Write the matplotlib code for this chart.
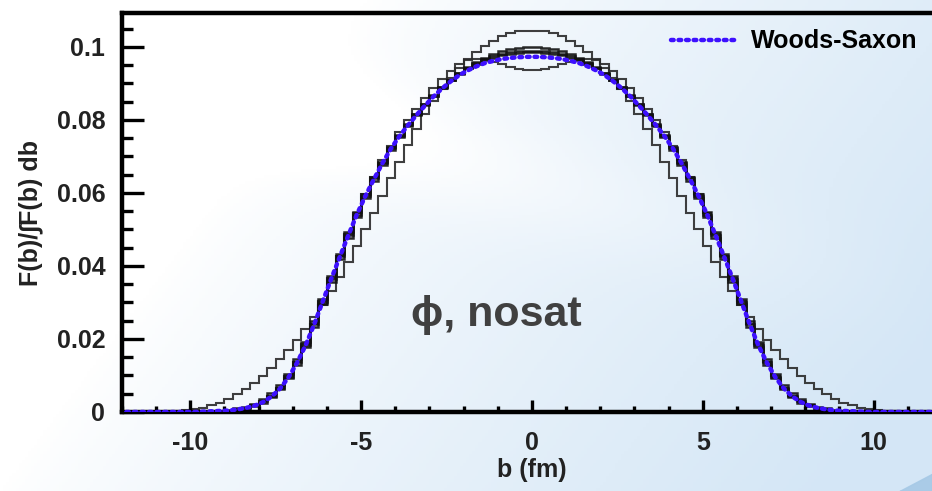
import numpy as np
import matplotlib
matplotlib.use("Agg")
import matplotlib.pyplot as plt
from matplotlib.ticker import MultipleLocator

plt.rcParams['font.family'] = ['Liberation Sans', 'DejaVu Sans']
plt.rcParams['font.weight'] = 'bold'

# half profiles (b >= 0), bin width 0.25 fm, centres 0.125 ... 11.875
bin_width = 0.25
b_max = 12.0

woods_saxon = [.0973, .0972, .0970, .0967, .0962, .0956, .0947, .0936, .0923, .0906,
               .0887, .0865, .0840, .0814, .0786, .0756, .0722, .0682, .0638, .0592,
               .0541, .0484, .0425, .0365, .0303, .0240, .0183, .0135, .0095, .0064,
               .0042, .0027, .0017, .0011, .0007, .0004, .0003, .0002, .0001]

hist_a = [.1045, .1043, .1037, .1029, .1017, .1003, .0986, .0966, .0943, .0916,
          .0886, .0852, .0815, .0775, .0732, .0686, .0640, .0593, .0546, .0500,
          .0455, .0412, .0370, .0331, .0294, .0260, .0228, .0198, .0170, .0144,
          .0120, .0098, .0079, .0062, .0048, .0036, .0026, .0018, .0012, .0008,
          .0005, .0003, .0002, .0001]

hist_b = [.1000, .0998, .0994, .0988, .0980, .0970, .0958, .0944, .0928, .0909,
          .0888, .0865, .0840, .0813, .0784, .0753, .0718, .0678, .0634, .0587,
          .0535, .0478, .0418, .0357, .0295, .0233, .0177, .0130, .0092, .0062,
          .0041, .0026, .0016, .0010, .0006, .0004, .0002, .0001]

hist_c = [.0990, .0989, .0986, .0981, .0975, .0967, .0956, .0943, .0928, .0910,
          .0890, .0868, .0843, .0816, .0787, .0757, .0722, .0683, .0640, .0593,
          .0541, .0485, .0426, .0365, .0302, .0240, .0183, .0136, .0097, .0066,
          .0044, .0029, .0018, .0011, .0007, .0004, .0002, .0001]

hist_d = [.0985, .0984, .0981, .0977, .0971, .0963, .0953, .0941, .0926, .0909,
          .0889, .0867, .0843, .0817, .0789, .0759, .0725, .0686, .0643, .0597,
          .0547, .0492, .0433, .0372, .0310, .0249, .0193, .0145, .0105, .0074,
          .0051, .0035, .0023, .0015, .0010, .0006, .0004, .0002, .0001]

hist_e = [.0937, .0940, .0946, .0953, .0960, .0966, .0968, .0964, .0952, .0935,
          .0912, .0887, .0860, .0831, .0800, .0767, .0730, .0689, .0644, .0596,
          .0544, .0487, .0427, .0366, .0303, .0241, .0185, .0137, .0098, .0067,
          .0045, .0029, .0018, .0011, .0007, .0004, .0002, .0001]

x_ticks = [-10, -5, 0, 5, 10]
y_ticks = [0, 0.02, 0.04, 0.06, 0.08, 0.1]

n_half = int(b_max / bin_width)
edges = np.arange(-b_max, b_max + bin_width / 2, bin_width)
centres = 0.5 * (edges[:-1] + edges[1:])


def full_profile(half):
    h = np.zeros(n_half)
    h[:len(half)] = half
    return np.concatenate([h[::-1], h])


fig = plt.figure(figsize=(9.32, 4.91), dpi=100)

# slide background gradient
bg = fig.add_axes([0, 0, 1, 1], zorder=0)
gx, gy = np.meshgrid(np.linspace(0, 1, 300), np.linspace(0, 1, 160))
t = np.clip(1.15 * gx + 0.45 * gy - 0.45, 0, 1) ** 0.8
band = np.exp(-((gy - 0.55 * gx - 0.05) / 0.12) ** 2) * 0.5
t = np.clip(t - band * (1 - gx), 0, 1)
white = np.array([1.0, 1.0, 1.0])
blue = np.array([0.835, 0.905, 0.965])
img = white[None, None, :] * (1 - t[..., None]) + blue[None, None, :] * t[..., None]
bg.imshow(img, extent=[0, 1, 0, 1], aspect='auto', origin='upper')
swoosh = np.linspace(0.965, 1.0, 30)
bg.fill_between(swoosh, 0, (swoosh - 0.965) * 1.0, color='#a6c9e6', alpha=0.9)
bg.set_xlim(0, 1)
bg.set_ylim(0, 1)
bg.axis('off')

ax = fig.add_axes([0.1309, 0.1609, 0.8798, 0.8126], zorder=1)
ax.patch.set_alpha(0)

for half, lw, col in [(hist_a, 1.5, '#2a2a2a'), (hist_e, 1.5, '#2a2a2a'),
                      (hist_d, 1.8, '#111111'), (hist_c, 1.8, '#111111'),
                      (hist_b, 1.8, '#111111')]:
    ax.stairs(full_profile(half), edges, color=col, lw=lw, alpha=0.9)

ws_full = full_profile(woods_saxon)
ax.plot(centres, ws_full, linestyle=(0, (0.6, 1.1)), color='#3d10ff', lw=3.2,
        dash_capstyle='round', label='Woods-Saxon', zorder=3)

ax.set_xlim(-12, 12)
ax.set_ylim(0, 0.1093)
ax.set_xticks(x_ticks)
ax.set_xticklabels([str(v) for v in x_ticks])
ax.set_yticks(y_ticks)
ax.set_yticklabels(['0', '0.02', '0.04', '0.06', '0.08', '0.1'])
ax.xaxis.set_minor_locator(MultipleLocator(1))
ax.yaxis.set_minor_locator(MultipleLocator(0.005))

ax.tick_params(axis='both', which='both', direction='in', colors='black',
               labelcolor='#222222', labelsize=18, width=2.4)
ax.tick_params(axis='y', which='major', length=16, pad=12)
ax.tick_params(axis='y', which='minor', length=8)
ax.tick_params(axis='x', which='major', length=9, pad=14)
ax.tick_params(axis='x', which='minor', length=4.5)
ax.tick_params(top=False, right=False, which='both')

for s in ['left', 'bottom', 'top']:
    ax.spines[s].set_linewidth(3.2)
ax.spines['right'].set_visible(False)

ax.set_xlabel('b (fm)', fontsize=18, fontweight='bold', color='#222222', labelpad=2)
ax.set_ylabel('F(b)/∫F(b) db', fontsize=18, fontweight='bold', color='#222222', labelpad=10)

ax.text(-1.05, 0.0265, 'ϕ, nosat', fontsize=31, fontweight='bold', color='#404040',
        ha='center', va='center')

ax.legend(loc='upper right', bbox_to_anchor=(0.99, 1.0), frameon=False,
          fontsize=18, handlelength=2.6, handletextpad=0.6, borderaxespad=0.25)

fig.savefig('out.png', dpi=100)
